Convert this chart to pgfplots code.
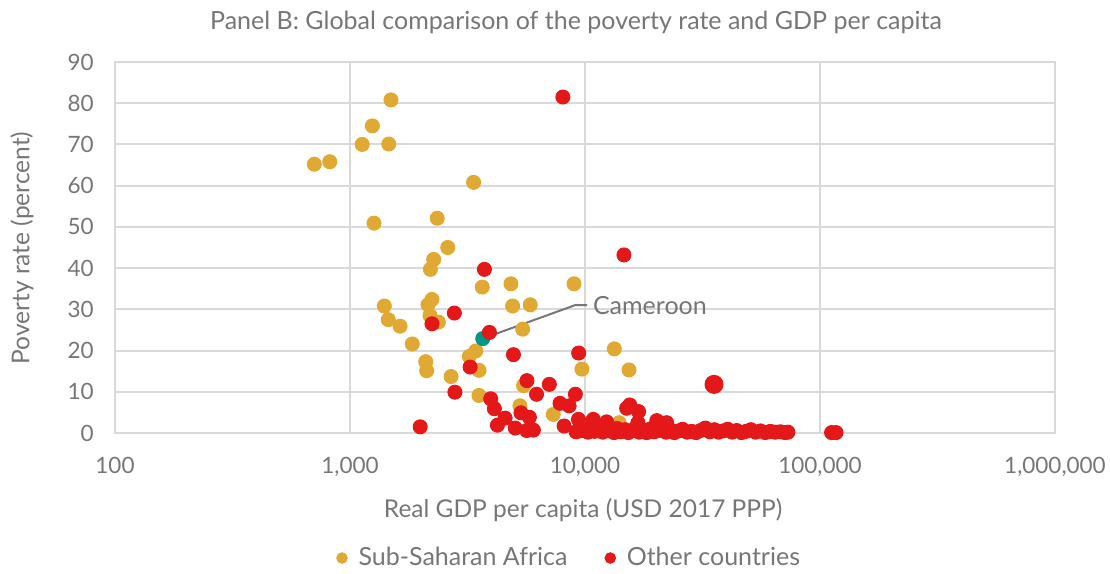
\documentclass[border=0pt]{standalone}
\usepackage{fontspec}
\setmainfont{Lato}
\usepackage{pgfplots}
\pgfplotsset{compat=1.18}
\definecolor{ssa}{RGB}{224,169,52}
\definecolor{oth}{RGB}{228,24,24}
\definecolor{cmr}{RGB}{0,150,136}
\definecolor{txt}{RGB}{118,118,118}
\definecolor{grd}{RGB}{217,217,217}

\begin{document}
\begin{tikzpicture}[x=1pt,y=1pt]
\path[use as bounding box] (-46,-56.4) rectangle (398,173.2);
\begin{axis}[
  at={(0,0)}, anchor=south west,
  scale only axis, width=376pt, height=148.4pt,
  xmode=log, log basis x=10,
  xmin=100, xmax=1000000,
  ymin=0, ymax=90, ytick={0,10,...,90},
  xtick={100,1000,10000,100000,1000000},
  xticklabels={100,{1,000},{10,000},{100,000},{1,000,000}},
  grid=major, grid style={grd, line width=0.8pt},
  axis line style={grd, line width=0.8pt},
  tick style={draw=none},
  minor tick num=0,
  /pgf/number format/assume math mode=true,
  tick label style={font=\fontsize{9}{11}\selectfont, text=txt},
  xticklabel style={yshift=-6pt},
  yticklabel style={xshift=-5pt},
  xlabel={Real GDP per capita (USD 2017 PPP)},
  xlabel style={at={(axis description cs:0.498,-0.2075)}, anchor=center, font=\fontsize{9.8}{11}\selectfont, text=txt},
  ylabel={Poverty rate (percent)},
  ylabel style={at={(axis description cs:-0.099,0.4987)}, anchor=center, font=\fontsize{9.8}{11}\selectfont, text=txt},
  legend style={at={(axis description cs:0.485,-0.337)}, anchor=center, draw=none, fill=none,
    legend columns=2, font=\fontsize{10}{12}\selectfont, text=txt,
    /tikz/every odd column/.append style={column sep=2.5pt},
    /tikz/every even column/.append style={column sep=13pt}},
  legend image code/.code={\draw[#1, mark size=2.1pt] plot coordinates {(0pt,0pt)};},
  clip=false,
]
% Sub-Saharan Africa
\addplot[only marks, mark=*, mark size=2.8pt, color=ssa] coordinates {
(705,65.2) (820,65.8) (1127,70.0) (1245,74.5) (1462,70.1) (1494,80.8)
(1265,50.9) (2350,52.1) (3358,60.8) (2606,45.0) (2270,42.1) (2198,39.7)
(3655,35.4) (1400,30.8) (2233,32.4) (2147,31.1) (1455,27.5) (1633,25.9)
(2190,28.5) (2376,26.9) (1841,21.6) (3428,19.9) (3219,18.6) (2100,17.3)
(2120,15.1) (3540,15.2) (2692,13.7) (3540,9.1) (4842,36.2) (4920,30.8)
(5848,31.1) (5429,25.2) (8980,36.2) (13330,20.4) (15390,15.3) (9700,15.5)
(5480,11.5) (5285,6.6) (7330,4.5) (13970,2.5) (22600,0.3)
};
\addlegendentry{Sub-Saharan Africa}
% Cameroon
\addplot[only marks, mark=*, mark size=2.8pt, color=cmr, forget plot] coordinates {(3672,22.9)};
% Other countries
\addplot[only marks, mark=*, mark size=2.8pt, color=oth] coordinates {
(8050,81.5) (14650,43.2) (3733,39.7) (2780,29.1) (2233,26.5) (3920,24.4)
(3245,16.0) (4960,19.0) (9400,19.4) (2795,9.9) (1990,1.5)
(7050,11.8) (5660,12.7) (6220,9.4) (9100,9.4) (3970,8.3) (4115,5.9)
(4570,3.6) (4240,1.9) (5050,1.2) (5340,4.9) (5800,3.8) (5650,0.6)
(6030,0.7) (7830,7.2) (8560,6.6) (8150,1.7) (9380,3.3) (9160,0.3)
(15040,6.0) (15500,6.8) (16900,5.2) (16800,2.5) (20200,3.0) (22250,2.5)
(10840,3.3) (12360,2.7) (112000,0.1) (117000,0.1)
(9500,0.5) (9900,1.0) (10300,0.2) (10700,1.5) (11000,0.4) (11500,0.9)
(11900,0.2) (12300,1.3) (12800,0.5) (13300,0.1) (13700,1.1) (14200,0.3)
(14800,0.8) (15300,0.1) (15900,0.6) (16400,1.2) (17000,0.2) (17700,0.7)
(18300,0.1) (19000,1.0) (19700,0.3) (20500,0.6) (21300,1.4) (22100,0.2)
(23000,0.8) (24000,0.1) (25000,0.5) (26000,0.9) (27200,0.2) (28400,0.4)
(29700,0.1) (31000,0.6) (32500,1.2) (34000,0.3) (35500,0.8) (37000,0.2)
(38700,0.5) (40500,0.9) (42300,0.2) (44200,0.6) (46300,0.1) (48500,0.4)
(50800,0.8) (53200,0.2) (55800,0.5) (58500,0.1) (61500,0.4) (64500,0.2)
(67800,0.3) (71000,0.1) (73000,0.2)
};
\addlegendentry{Other countries}
\addplot[only marks, mark=*, mark size=3.6pt, color=oth, forget plot] coordinates {(35400,11.8)};
% annotation
\draw[txt, line width=0.8pt] (axis cs:3672,22.9) -- (axis cs:9060,31) -- (axis cs:10200,31)
  node[anchor=west, font=\fontsize{10}{12}\selectfont, text=txt, inner sep=2pt] {Cameroon};
\end{axis}
\node[font=\fontsize{10}{12}\selectfont, text=txt] at (184.4,164.4)
  {Panel B: Global comparison of the poverty rate and GDP per capita};
\end{tikzpicture}
\end{document}
